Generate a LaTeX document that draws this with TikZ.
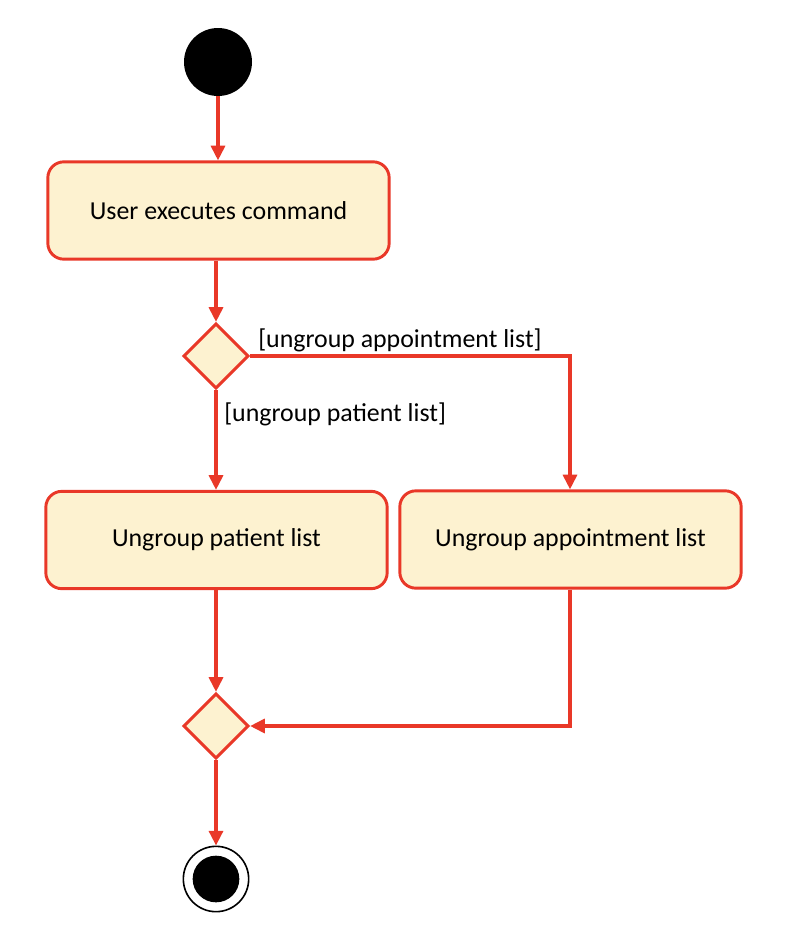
\documentclass[tikz,border=0pt]{standalone}
\usepackage{fontspec}
\setmainfont{Carlito}
\usetikzlibrary{arrows.meta,shapes.geometric}
\definecolor{ured}{RGB}{233,56,40}
\definecolor{ufill}{RGB}{253,242,208}
\begin{document}
\begin{tikzpicture}[x=0.75pt,y=-0.75pt,
  act/.style={draw=ured,fill=ufill,line width=2.2pt,rounded corners=12pt,minimum width=256pt,minimum height=73pt,inner sep=0pt,font=\fontsize{19.4}{23}\selectfont},
  dec/.style={draw=ured,fill=ufill,line width=2.2pt,diamond,minimum width=49pt,minimum height=49pt,inner sep=0pt},
  flow/.style={draw=ured,line width=2.4pt,-{Triangle[length=11pt,width=10.5pt]}},
  guard/.style={font=\fontsize{19.4}{23}\selectfont,inner sep=0pt}]
\useasboundingbox[fill=white] (0,0) rectangle (788,932);
\node[circle,fill=black,minimum size=51pt,inner sep=0pt] (start) at (218,62) {};
\node[act] (cmd) at (218.5,210.5) {User executes command};
\node[dec] (d1) at (216,356) {};
\node[act] (pat) at (216.5,540) {Ungroup patient list};
\node[act] (app) at (570.5,539.5) {Ungroup appointment list};
\node[dec] (d2) at (216,726) {};
\node[circle,draw=black,line width=1.2pt,fill=white,minimum size=49pt,inner sep=0pt] (end) at (216,879) {};
\node[circle,fill=black,minimum size=35pt,inner sep=0pt] at (end) {};
\coordinate (c1) at (570,356);
\coordinate (c2) at (570,726);
\draw[flow] (start) -- (cmd.north -| start);
\draw[flow] (cmd.south -| d1) -- (d1.north);
\draw[flow] (d1.east) -- (c1) -- (app.north -| c1);
\draw[flow] (d1.south) -- (pat.north -| d1);
\draw[flow] (pat.south -| d2) -- (d2.north);
\draw[flow] (app.south -| c2) -- (c2) -- (d2.east);
\draw[flow] (d2.south) -- (end.north);
\node[guard,anchor=base west] (g1) at (258,347) {[ungroup appointment list]};
\node[guard,anchor=base west] (g2) at (224,421) {[ungroup patient list]};
\end{tikzpicture}
\end{document}
